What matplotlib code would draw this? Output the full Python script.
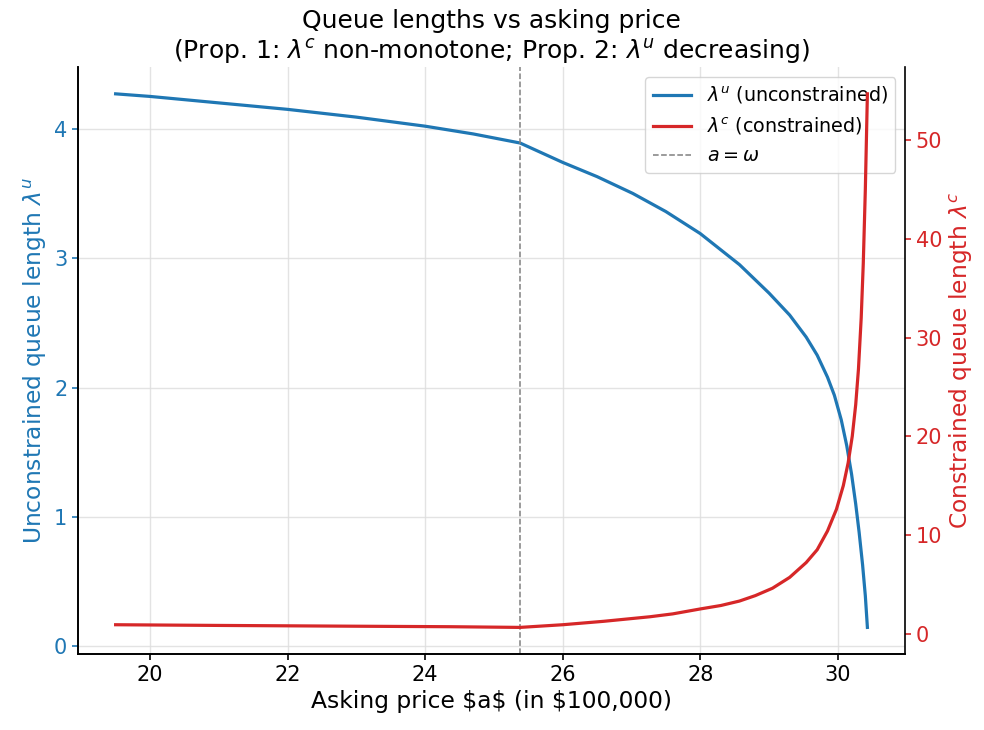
import matplotlib
matplotlib.use("Agg")
import matplotlib.pyplot as plt

# asking price (in $100,000) and queue lengths
price_u = [19.50, 20.0, 21.0, 22.0, 23.0, 24.0, 24.7, 25.38, 26.0, 26.5,
           27.02, 27.5, 28.0, 28.57, 29.0, 29.3, 29.54, 29.7, 29.85, 29.95,
           30.05, 30.13, 30.20, 30.26, 30.31, 30.36, 30.40, 30.43]
lam_u = [4.27, 4.25, 4.20, 4.15, 4.09, 4.02, 3.96, 3.89, 3.74, 3.63,
         3.50, 3.36, 3.19, 2.95, 2.73, 2.56, 2.39, 2.25, 2.08, 1.94,
         1.75, 1.55, 1.33, 1.10, 0.88, 0.63, 0.39, 0.146]

price_c = [19.50, 21.0, 23.0, 24.36, 25.38, 26.0, 26.6, 27.27, 27.6, 28.0,
           28.3, 28.57, 28.8, 29.05, 29.3, 29.54, 29.7, 29.85, 29.98, 30.08,
           30.15, 30.21, 30.26, 30.30, 30.34, 30.37, 30.40, 30.43]
lam_c = [0.90, 0.83, 0.75, 0.70, 0.63, 0.90, 1.25, 1.71, 2.0, 2.5,
         2.85, 3.3, 3.85, 4.6, 5.7, 7.2, 8.5, 10.4, 12.6, 15.0,
         17.3, 20.0, 23.2, 26.8, 32.0, 37.5, 45.0, 54.7]

omega = 25.38

blue = "#1f77b4"
red = "#d62728"

plt.rcParams["axes.linewidth"] = 1.2

fig = plt.figure(figsize=(9.84, 7.3), dpi=100)
ax1 = fig.add_axes([0.0793, 0.104, 0.8404, 0.804])
ax2 = ax1.twinx()

l1, = ax1.plot(price_u, lam_u, color=blue, lw=2.3, label=r"$\lambda^u$ (unconstrained)")
l3 = ax1.axvline(omega, color="gray", ls="--", lw=1.1, label=r"$a=\omega$")
l2, = ax2.plot(price_c, lam_c, color=red, lw=2.3, label=r"$\lambda^c$ (constrained)")

ax1.grid(True, color="#dddddd", lw=1.0, alpha=0.8)
ax1.set_xlabel("Asking price $a$ (in $100,000)", fontsize=16.8)
ax1.set_ylabel(r"Unconstrained queue length $\lambda^u$", color=blue, fontsize=16.8)
ax2.set_ylabel(r"Constrained queue length $\lambda^c$", color=red, fontsize=16.8)
ax1.tick_params(axis="y", colors=blue, labelsize=15, width=1.2, length=4.2)
ax1.tick_params(axis="x", labelsize=15, width=1.2, length=4.2)
ax2.tick_params(axis="y", colors=red, labelsize=15, width=1.2, length=4.2)
ax1.set_xticks([20, 22, 24, 26, 28, 30])
ax1.set_yticks([0, 1, 2, 3, 4])
ax2.set_yticks([0, 10, 20, 30, 40, 50])

ax1.spines["top"].set_visible(False)
ax2.spines["top"].set_visible(False)
ax1.spines["right"].set_visible(False)

ax1.legend(handles=[l1, l2, l3], loc="upper right", fontsize=13.8)
ax1.set_title("Queue lengths vs asking price\n"
              r"(Prop. 1: $\lambda^c$ non-monotone; Prop. 2: $\lambda^u$ decreasing)",
              fontsize=18)

fig.savefig("out.png", dpi=100)
